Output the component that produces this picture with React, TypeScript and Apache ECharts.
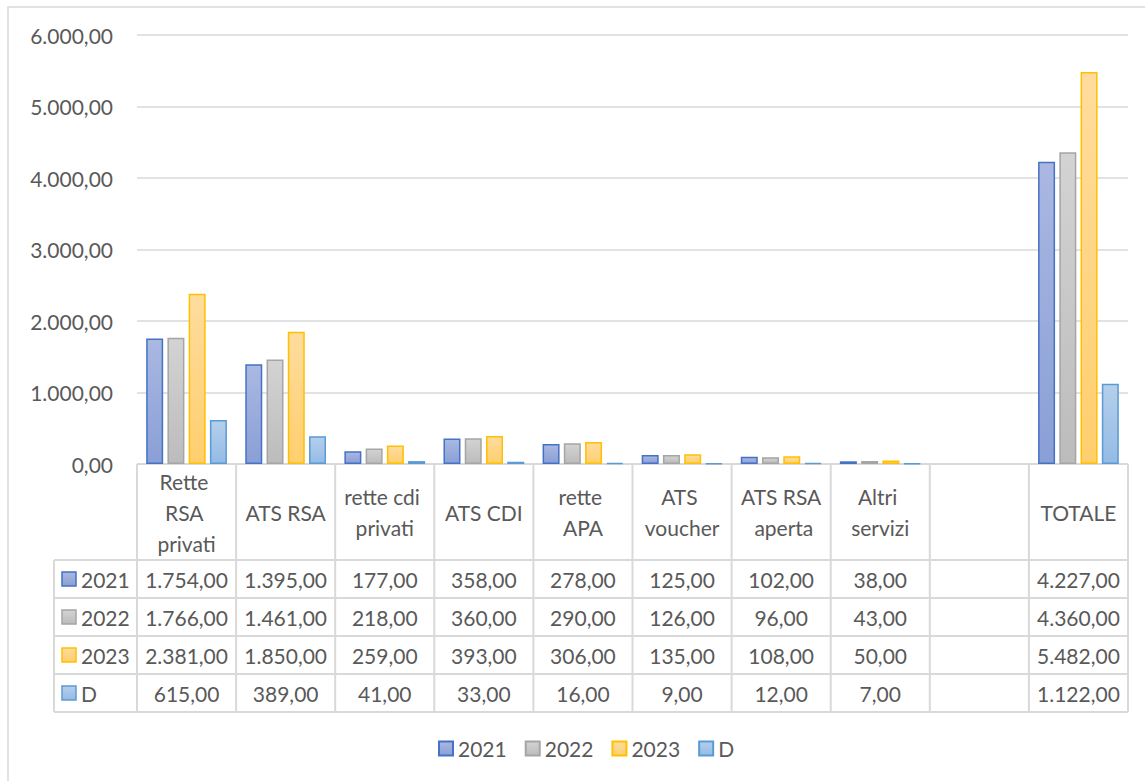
import React, { useEffect, useRef } from "react";
import * as echarts from "echarts";

const categories = [
  "Rette RSA privati",
  "ATS RSA",
  "rette cdi privati",
  "ATS CDI",
  "rette APA",
  "ATS voucher",
  "ATS RSA aperta",
  "Altri servizi",
  "",
  "TOTALE",
];
const seriesNames = ["2021", "2022", "2023", "D"];
const values2021 = [1754, 1395, 177, 358, 278, 125, 102, 38, null, 4227];
const values2022 = [1766, 1461, 218, 360, 290, 126, 96, 43, null, 4360];
const values2023 = [2381, 1850, 259, 393, 306, 135, 108, 50, null, 5482];
const valuesD = [615, 389, 41, 33, 16, 9, 12, 7, null, 1122];
const yMin = 0;
const yMax = 6000;
const yInterval = 1000;

const seriesValues = [values2021, values2022, values2023, valuesD];
const palette = [
  { top: "#aab8e2", bottom: "#8a9fd6", border: "#4472c4" },
  { top: "#d3d3d3", bottom: "#bcbcbc", border: "#a5a5a5" },
  { top: "#ffdc9e", bottom: "#ffcf6e", border: "#ffc000" },
  { top: "#b5cfeb", bottom: "#94bbe6", border: "#5b9bd5" },
];

const FONT = "Lato, 'Noto Sans', sans-serif";
const TEXT = "#595959";
const LINE = "#d9d9d9";
const FS = 21;

function fmt(v: number | null): string {
  if (v === null || v === undefined) return "";
  const [i, d] = Number(v).toFixed(2).split(".");
  return i.replace(/\B(?=(\d{3})+(?!\d))/g, ".") + "," + d;
}

function grad(p: { top: string; bottom: string }) {
  return new echarts.graphic.LinearGradient(0, 0, 0, 1, [
    { offset: 0, color: p.top },
    { offset: 1, color: p.bottom },
  ]);
}

export default function App() {
  const ref = useRef<HTMLDivElement>(null);

  useEffect(() => {
    document.body.style.margin = "0";
    if (!ref.current) return;
    const chart = echarts.init(ref.current, null, { renderer: "svg" });
    chart.setOption({
      animation: false,
      backgroundColor: "#ffffff",
      grid: { left: 137, right: 17, top: 35, bottom: 317 },
      legend: {
        data: seriesNames,
        left: 433,
        top: 733,
        icon: "rect",
        itemWidth: 14,
        itemHeight: 14,
        itemGap: 18,
        textStyle: { fontSize: FS, color: TEXT, fontFamily: FONT },
      },
      xAxis: {
        type: "category",
        data: categories,
        axisLine: { show: false },
        axisTick: { show: false },
        axisLabel: {
          interval: 0,
          width: 86,
          overflow: "break",
          verticalAlign: "middle",
          align: "center",
          margin: 48,
          lineHeight: 31,
          fontSize: FS,
          color: TEXT,
          fontFamily: FONT,
        },
      },
      yAxis: {
        type: "value",
        min: yMin,
        max: yMax,
        interval: yInterval,
        axisLine: { show: false },
        axisTick: { show: false },
        splitLine: { lineStyle: { color: LINE, width: 1.5 } },
        axisLabel: {
          formatter: (v: number) => fmt(v),
          fontSize: FS,
          color: TEXT,
          fontFamily: FONT,
          margin: 24,
        },
      },
      series: seriesNames.map((name, k) => ({
        name,
        type: "bar",
        data: seriesValues[k],
        barWidth: 17,
        barGap: "25%",
        itemStyle: {
          color: grad(palette[k]),
          borderColor: palette[k].border,
          borderWidth: 1.5,
        },
      })),
    });

    // data table under the plot, positioned from the axes' own scales
    const xs = categories.map((_, i) => chart.convertToPixel({ xAxisIndex: 0 }, i) as number);
    const half = (xs[1] - xs[0]) / 2;
    const bounds = [xs[0] - half, ...xs.map((x) => x + half)];
    const tableTop = chart.convertToPixel({ yAxisIndex: 0 }, 0) as number;
    const headerH = 96;
    const rowH = 38;
    const labelColW = 83;
    const tableLeft = bounds[0] - labelColW;
    const tableRight = bounds[bounds.length - 1];
    const tableBottom = tableTop + headerH + rowH * seriesNames.length;

    const g: any[] = [];
    g.push({
      type: "rect",
      shape: { x: 8, y: 7, width: 1160, height: 800 },
      style: { fill: "none", stroke: LINE, lineWidth: 1.5 },
      z: -10,
      silent: true,
    });
    const ln = (x1: number, y1: number, x2: number, y2: number) =>
      g.push({
        type: "line",
        shape: { x1, y1, x2, y2 },
        style: { stroke: LINE, lineWidth: 2 },
        silent: true,
      });
    ln(bounds[0], tableTop, tableRight, tableTop);
    for (let r = 0; r <= seriesNames.length; r++) {
      const y = tableTop + headerH + r * rowH;
      ln(tableLeft, y, tableRight, y);
    }
    bounds.forEach((x) => ln(x, tableTop, x, tableBottom));
    ln(tableLeft, tableTop + headerH, tableLeft, tableBottom);

    seriesNames.forEach((name, r) => {
      const cy = tableTop + headerH + r * rowH + rowH / 2;
      g.push({
        type: "rect",
        shape: { x: tableLeft + 8, y: cy - 7, width: 14, height: 14 },
        style: { fill: grad(palette[r]), stroke: palette[r].border, lineWidth: 1.5 },
        silent: true,
      });
      g.push({
        type: "text",
        x: tableLeft + 27,
        y: cy,
        style: {
          text: name,
          fontSize: FS,
          fill: TEXT,
          fontFamily: FONT,
          align: "left",
          verticalAlign: "middle",
        },
        silent: true,
      });
      seriesValues[r].forEach((v, i) => {
        if (v === null) return;
        g.push({
          type: "text",
          x: xs[i],
          y: cy,
          style: {
            text: fmt(v),
            fontSize: FS,
            fill: TEXT,
            fontFamily: FONT,
            align: "center",
            verticalAlign: "middle",
          },
          silent: true,
        });
      });
    });

    chart.setOption({ graphic: g });

    return () => chart.dispose();
  }, []);

  return <div ref={ref} style={{ width: 1145, height: 781 }} />;
}
